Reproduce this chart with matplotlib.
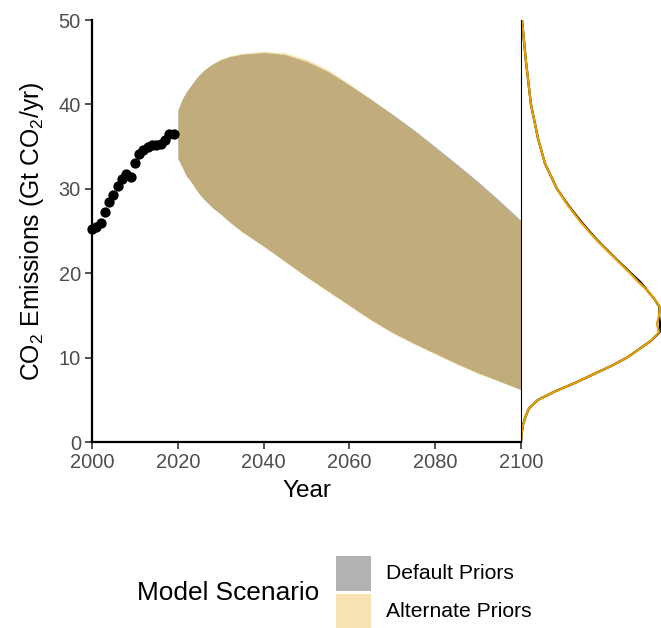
import matplotlib
matplotlib.use("Agg")
import matplotlib.pyplot as plt
from matplotlib.patches import Rectangle

plt.rcParams['font.family'] = ['Liberation Sans', 'DejaVu Sans']
plt.rcParams['mathtext.fontset'] = 'custom'
plt.rcParams['mathtext.rm'] = 'Liberation Sans'
plt.rcParams['mathtext.it'] = 'Liberation Sans:italic'
plt.rcParams['mathtext.default'] = 'regular'

# Historical emissions
hist_years = list(range(2000, 2020))
hist_vals = [25.2, 25.5, 25.9, 27.2, 28.4, 29.3, 30.3, 31.2, 31.8, 31.4,
             33.1, 34.1, 34.6, 35.0, 35.2, 35.2, 35.3, 35.8, 36.5, 36.5]

# Projection bands (90% ranges)
band_years = [2020, 2021, 2022, 2023, 2024, 2025, 2026, 2027, 2028, 2030, 2032, 2035,
              2040, 2045, 2050, 2055, 2060, 2065, 2070, 2075, 2080, 2085, 2090, 2095, 2100]
default_upper = [39.3, 40.6, 41.5, 42.2, 42.9, 43.5, 44.0, 44.4, 44.75, 45.3, 45.65, 45.95,
                 46.15, 45.9, 45.1, 43.9, 42.3, 40.6, 38.85, 37.0, 35.0, 32.95, 30.85, 28.6, 26.25]
default_lower = [33.6, 32.6, 31.5, 30.9, 30.1, 29.4, 28.8, 28.3, 27.8, 27.0, 26.1, 24.9,
                 23.2, 21.4, 19.6, 17.9, 16.2, 14.5, 13.0, 11.7, 10.5, 9.3, 8.2, 7.2, 6.2]
alternate_upper = [39.3, 40.6, 41.5, 42.2, 42.9, 43.5, 44.0, 44.45, 44.8, 45.35, 45.75, 46.05,
                   46.3, 46.1, 45.35, 44.1, 42.45, 40.65, 38.8, 36.9, 34.85, 32.8, 30.7, 28.45, 26.1]
alternate_lower = [33.6, 32.6, 31.5, 30.9, 30.1, 29.4, 28.8, 28.3, 27.8, 27.0, 26.1, 24.9,
                   23.2, 21.35, 19.5, 17.8, 16.1, 14.4, 12.9, 11.6, 10.4, 9.2, 8.1, 7.15, 6.2]

# 2100 distribution (relative density)
dens_vals = [0, 1, 2, 3, 4, 5, 6, 7, 8, 9, 10, 11, 12, 13, 14, 15, 16, 17, 18, 19, 20,
             22, 24, 26, 28, 30, 33, 36, 40, 45, 50]
dens_default = [0.0, 0.004, 0.014, 0.032, 0.058, 0.122, 0.243, 0.386, 0.514, 0.643,
                0.757, 0.843, 0.929, 0.990, 0.993, 0.986, 0.990, 0.950, 0.900, 0.850, 0.785,
                0.660, 0.540, 0.435, 0.340, 0.257, 0.171, 0.121, 0.071, 0.036, 0.007]
dens_alternate = [0.0, 0.004, 0.014, 0.032, 0.058, 0.122, 0.243, 0.386, 0.514, 0.643,
                  0.757, 0.843, 0.929, 0.985, 0.971, 0.986, 0.993, 0.950, 0.900, 0.836, 0.779,
                  0.657, 0.536, 0.429, 0.336, 0.257, 0.171, 0.121, 0.071, 0.036, 0.007]

scenario_labels = ['Default Priors', 'Alternate Priors']
scenario_colors = ['black', '#E69F00']
band_alpha = 0.3

W, H = 661, 628
fig = plt.figure(figsize=(W / 100, H / 100), dpi=100)

L, R, T, B = 92, 521, 20, 442
ax = fig.add_axes([L / W, 1 - B / H, (R - L) / W, (B - T) / H])
ax2 = fig.add_axes([R / W, 1 - B / H, 140 / W, (B - T) / H])

ax.fill_between(band_years, default_lower, default_upper, color=scenario_colors[0],
                alpha=band_alpha, linewidth=0)
ax.fill_between(band_years, alternate_lower, alternate_upper, color=scenario_colors[1],
                alpha=band_alpha, linewidth=0)
ax.scatter(hist_years, hist_vals, s=55, color='black', zorder=3, linewidths=0, clip_on=False)

ax.set_xlim(2000, 2100)
ax.set_ylim(0, 50)
ax.set_xticks([2000, 2020, 2040, 2060, 2080, 2100])
ax.set_yticks([0, 10, 20, 30, 40, 50])
for s in ['top', 'right']:
    ax.spines[s].set_visible(False)
for s in ['left', 'bottom']:
    ax.spines[s].set_linewidth(1.6)
    ax.spines[s].set_color('black')
ax.tick_params(axis='both', length=5, width=1.2, color='#333333', labelcolor='#4D4D4D',
               labelsize=14.4, pad=3)
ax.set_xlabel('Year', fontsize=17.5, labelpad=6)
ax.set_ylabel('CO$_2$ Emissions (Gt CO$_2$/yr)', fontsize=17.8, labelpad=9)

ax2.plot(dens_default, dens_vals, color=scenario_colors[0], lw=1.6, solid_capstyle='round')
ax2.plot(dens_alternate, dens_vals, color=scenario_colors[1], lw=1.6, solid_capstyle='round')
ax2.set_xlim(0, 1.0)
ax2.set_ylim(0, 50)
ax2.set_xticks([])
ax2.set_yticks([])
for s in ['top', 'right', 'bottom']:
    ax2.spines[s].set_visible(False)
ax2.spines['left'].set_linewidth(0.8)
ax2.spines['left'].set_color('black')
ax2.patch.set_alpha(0)

# Legend drawn in figure pixel coordinates
key_tops = [556, 594]
key_h, key_w, key_x = 34.5, 35, 336
for top, c, lab in zip(key_tops, scenario_colors, scenario_labels):
    fig.patches.append(Rectangle((key_x / W, 1 - (top + key_h) / H), key_w / W, key_h / H,
                                 transform=fig.transFigure, facecolor=c, alpha=band_alpha,
                                 edgecolor='none'))
    fig.text(386 / W, 1 - (top + key_h / 2) / H, lab, fontsize=15.2, va='center', ha='left')
fig.text(137 / W, 1 - 593 / H, 'Model Scenario', fontsize=18.9, va='center', ha='left')

fig.savefig('out.png', dpi=100)
